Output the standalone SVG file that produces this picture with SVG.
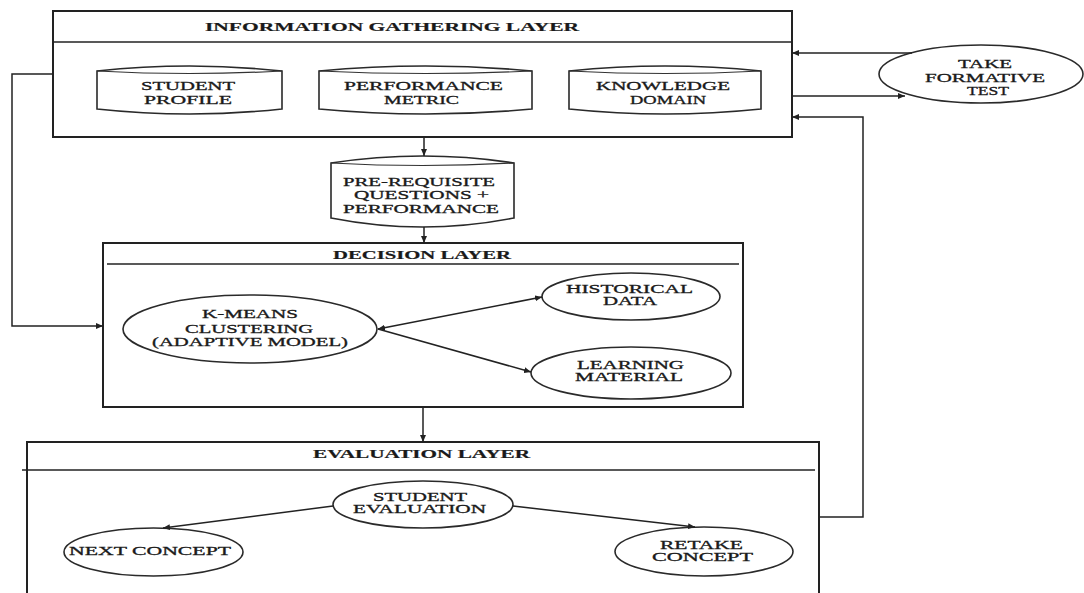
<svg xmlns="http://www.w3.org/2000/svg" width="1084" height="593" viewBox="0 0 1084 593">
<defs>
<style>
.box{fill:#fff;stroke:#222;stroke-width:2}
.hdr{stroke:#222;stroke-width:1.6;fill:none}
.shape{fill:#fff;stroke:#2a2a2a;stroke-width:1.6}
.inner{fill:none;stroke:#333;stroke-width:1.2}
.conn{fill:none;stroke:#222;stroke-width:1.5}
text{font-family:"Liberation Serif","Times New Roman",serif;font-size:12px;fill:#1a1a1a;stroke:#1a1a1a;stroke-width:0.3}
.title{font-weight:bold;stroke-width:0.2}
</style>
<marker id="arr" markerUnits="userSpaceOnUse" markerWidth="8" markerHeight="6" refX="7" refY="3" orient="auto-start-reverse">
<path d="M0,0 L7,3 L0,6 z" fill="#222"/>
</marker>
</defs>

<g id="info-layer">
<rect class="box" x="53" y="11" width="739" height="126"/>
<line class="hdr" x1="53" y1="42" x2="792" y2="42"/>
<text class="title" x="205" y="31" textLength="374" lengthAdjust="spacingAndGlyphs">INFORMATION GATHERING LAYER</text>
</g>

<g id="student-profile">
<path class="shape" d="M97,71 Q189.5,61 282,71 V109 Q189.5,119 97,109 Z"/>
<path class="inner" d="M97,71 Q189.5,76 282,71"/>
<text x="141" y="90" textLength="94" lengthAdjust="spacingAndGlyphs">STUDENT</text>
<text x="144" y="104" textLength="88" lengthAdjust="spacingAndGlyphs">PROFILE</text>
</g>

<g id="performance-metric">
<path class="shape" d="M319,71 Q425.5,61 532,71 V109 Q425.5,119 319,109 Z"/>
<path class="inner" d="M319,71 Q425.5,76 532,71"/>
<text x="344" y="90" textLength="159" lengthAdjust="spacingAndGlyphs">PERFORMANCE</text>
<text x="384" y="104" textLength="75" lengthAdjust="spacingAndGlyphs">METRIC</text>
</g>

<g id="knowledge-domain">
<path class="shape" d="M569,71 Q665,61 761,71 V109 Q665,119 569,109 Z"/>
<path class="inner" d="M569,71 Q665,76 761,71"/>
<text x="596" y="90" textLength="134" lengthAdjust="spacingAndGlyphs">KNOWLEDGE</text>
<text x="630" y="104" textLength="76" lengthAdjust="spacingAndGlyphs">DOMAIN</text>
</g>

<g id="take-formative-test">
<ellipse class="shape" cx="981" cy="74" rx="102" ry="29"/>
<text x="958" y="68" textLength="54" lengthAdjust="spacingAndGlyphs">TAKE</text>
<text x="925" y="82" textLength="120" lengthAdjust="spacingAndGlyphs">FORMATIVE</text>
<text x="967" y="95" textLength="42" lengthAdjust="spacingAndGlyphs">TEST</text>
</g>

<g id="prerequisite">
<path class="shape" d="M331,163 Q422.5,149 514,163 V218 Q422.5,236 331,218 Z"/>
<path class="inner" d="M331,163 Q422.5,168 514,163"/>
<text x="343" y="186" textLength="152" lengthAdjust="spacingAndGlyphs">PRE-REQUISITE</text>
<text x="354" y="199" textLength="135" lengthAdjust="spacingAndGlyphs">QUESTIONS +</text>
<text x="343" y="213" textLength="156" lengthAdjust="spacingAndGlyphs">PERFORMANCE</text>
</g>

<g id="decision-layer">
<rect class="box" x="103" y="243" width="640" height="164"/>
<line class="hdr" x1="107" y1="264" x2="739" y2="264"/>
<text class="title" x="333" y="259" textLength="178" lengthAdjust="spacingAndGlyphs">DECISION LAYER</text>
</g>

<g id="kmeans">
<ellipse class="shape" cx="250" cy="329" rx="127" ry="34"/>
<text x="202" y="318" textLength="96" lengthAdjust="spacingAndGlyphs">K-MEANS</text>
<text x="185" y="333" textLength="128" lengthAdjust="spacingAndGlyphs">CLUSTERING</text>
<text x="152" y="346" textLength="196" lengthAdjust="spacingAndGlyphs">(ADAPTIVE MODEL)</text>
</g>

<g id="historical-data">
<ellipse class="shape" cx="631" cy="296.5" rx="89" ry="23.5"/>
<text x="566" y="293" textLength="127" lengthAdjust="spacingAndGlyphs">HISTORICAL</text>
<text x="603" y="305" textLength="54" lengthAdjust="spacingAndGlyphs">DATA</text>
</g>

<g id="learning-material">
<ellipse class="shape" cx="631" cy="373" rx="100" ry="26"/>
<text x="577" y="369" textLength="107" lengthAdjust="spacingAndGlyphs">LEARNING</text>
<text x="575" y="381" textLength="108" lengthAdjust="spacingAndGlyphs">MATERIAL</text>
</g>

<g id="evaluation-layer">
<path class="box" d="M27,600 V442 H819 V600"/>
<line class="hdr" x1="22" y1="470" x2="815" y2="470"/>
<text class="title" x="313" y="458" textLength="217" lengthAdjust="spacingAndGlyphs">EVALUATION LAYER</text>
</g>

<g id="student-evaluation">
<ellipse class="shape" cx="423" cy="504.5" rx="90" ry="23.5"/>
<text x="373" y="501" textLength="94" lengthAdjust="spacingAndGlyphs">STUDENT</text>
<text x="353" y="513" textLength="133" lengthAdjust="spacingAndGlyphs">EVALUATION</text>
</g>

<g id="next-concept">
<ellipse class="shape" cx="153.5" cy="552" rx="89.5" ry="24"/>
<text x="69" y="555" textLength="162" lengthAdjust="spacingAndGlyphs">NEXT CONCEPT</text>
</g>

<g id="retake-concept">
<ellipse class="shape" cx="704" cy="551.5" rx="89" ry="24.5"/>
<text x="660" y="549" textLength="83" lengthAdjust="spacingAndGlyphs">RETAKE</text>
<text x="652" y="561" textLength="101" lengthAdjust="spacingAndGlyphs">CONCEPT</text>
</g>

<g id="connectors">
<path class="conn" d="M424,137 V156" marker-end="url(#arr)"/>
<path class="conn" d="M424,227 V243" marker-end="url(#arr)"/>
<path class="conn" d="M423,407 V442" marker-end="url(#arr)"/>
<path class="conn" d="M53,74 H12 V326 H103" marker-end="url(#arr)"/>
<path class="conn" d="M912,53 H792" marker-end="url(#arr)"/>
<path class="conn" d="M792,96 H905" marker-end="url(#arr)"/>
<path class="conn" d="M819,517 H863 V117 H792" marker-end="url(#arr)"/>
<path class="conn" d="M378,329 L542,297" marker-start="url(#arr)" marker-end="url(#arr)"/>
<path class="conn" d="M378,329 L531,372" marker-end="url(#arr)"/>
<path class="conn" d="M333,506 L163,528" marker-end="url(#arr)"/>
<path class="conn" d="M513,506 L695,527" marker-end="url(#arr)"/>
</g>
</svg>
